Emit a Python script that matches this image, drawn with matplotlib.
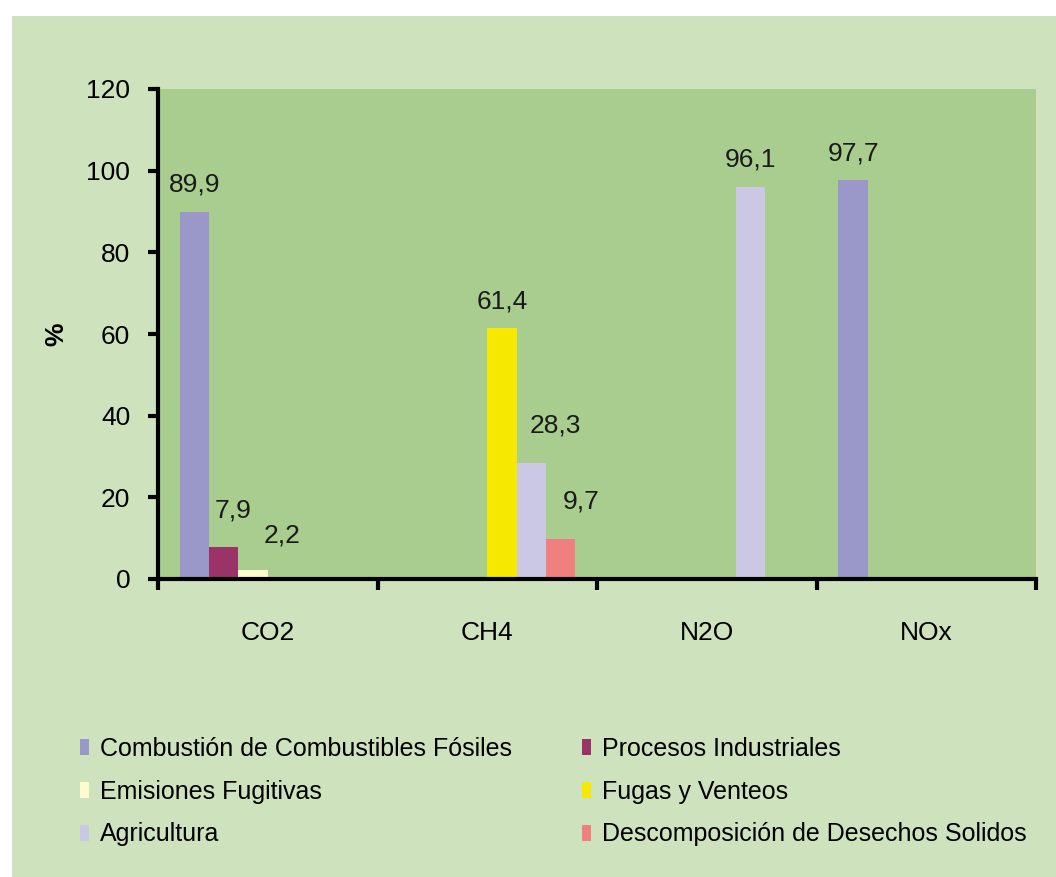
import matplotlib
matplotlib.use("Agg")
import matplotlib.pyplot as plt
from matplotlib.patches import Rectangle, Patch
import numpy as np

categories = ["CO2", "CH4", "N2O", "NOx"]
series_names = [
    "Combustión de Combustibles Fósiles",
    "Procesos Industriales",
    "Emisiones Fugitivas",
    "Fugas y Venteos",
    "Agricultura",
    "Descomposición de Desechos Solidos",
]
combustion = [89.9, 0, 0, 97.7]
procesos = [7.9, 0, 0, 0]
emisiones = [2.2, 0, 0, 0]
fugas = [0, 61.4, 0, 0]
agricultura = [0, 28.3, 96.1, 0]
descomposicion = [0, 9.7, 0, 0]
series_values = [combustion, procesos, emisiones, fugas, agricultura, descomposicion]
colors = ["#9a97c9", "#9a3468", "#fdfbd0", "#f7e800", "#cbc8e6", "#f08080"]
yticks = [0, 20, 40, 60, 80, 100, 120]

# label placement tweaks (pixels): (series index, category index) -> (dx, dy above bar top)
label_offsets = {(1, 0): (9, 29), (2, 0): (29, 28), (4, 1): (24, 31), (5, 1): (21, 31)}

plt.rcParams["font.family"] = ["Liberation Sans", "DejaVu Sans"]
FS = 19
LFS = 18

W, H = 1056, 877
fig = plt.figure(figsize=(W / 100, H / 100), dpi=100, facecolor="white")
fig.patches.append(Rectangle((12 / W, 0), 1 - 12 / W, 1 - 16 / H, transform=fig.transFigure,
                             facecolor="#cee3bd", edgecolor="none", zorder=-10))

ax = fig.add_axes([158 / W, 1 - 579 / H, (1036 - 158) / W, (579 - 89) / H])
ax.set_facecolor("#a9cd8f")

n_series = len(series_names)
slot = 1 / (n_series + 1.5)
for j, (vals, c) in enumerate(zip(series_values, colors)):
    x = np.arange(len(categories)) + (0.75 + j + 0.5) * slot
    ax.bar(x, vals, width=slot, color=c, edgecolor="none", zorder=2)
    for i, (xi, v) in enumerate(zip(x, vals)):
        if v > 0:
            dx, dy = label_offsets.get((j, i), (0, 20))
            ax.annotate(f"{v:.1f}".replace(".", ","), (xi, v), xytext=(dx * 0.72, dy * 0.72),
                        textcoords="offset points", ha="center", va="baseline",
                        fontsize=FS, color="#1a1a1a")

ax.set_xlim(0, len(categories))
ax.set_ylim(0, 120)
ax.set_yticks(yticks)
ax.set_yticklabels([str(t) for t in yticks], fontsize=FS)
ax.set_xticks(np.arange(len(categories)) + 0.5)
ax.set_xticklabels(categories, fontsize=FS)
ax.set_xticks(np.arange(len(categories) + 1), minor=True)
ax.tick_params(axis="x", which="major", length=0, pad=30)
ax.tick_params(axis="x", which="minor", length=8, width=3, direction="out")
ax.tick_params(axis="y", length=7, width=3, direction="out", pad=13)
for s in ["top", "right"]:
    ax.spines[s].set_visible(False)
for s in ["left", "bottom"]:
    ax.spines[s].set_linewidth(3)
    ax.spines[s].set_color("black")
    ax.spines[s].set_zorder(3)
ax.set_ylabel("%", fontsize=FS, fontweight="bold", labelpad=13)

order = [0, 2, 4, 1, 3, 5]
handles = [Patch(facecolor=colors[i], edgecolor="none") for i in order]
labels = [series_names[i] for i in order]
fig.legend(handles, labels, ncol=2, loc="upper left", bbox_to_anchor=(70 / W, 1 - 727 / H),
           frameon=False, fontsize=LFS, handlelength=0.35, handleheight=0.6,
           handletextpad=0.45, columnspacing=2.8, labelspacing=0.75, borderaxespad=0)

fig.savefig("out.png", dpi=100, facecolor=fig.get_facecolor())
